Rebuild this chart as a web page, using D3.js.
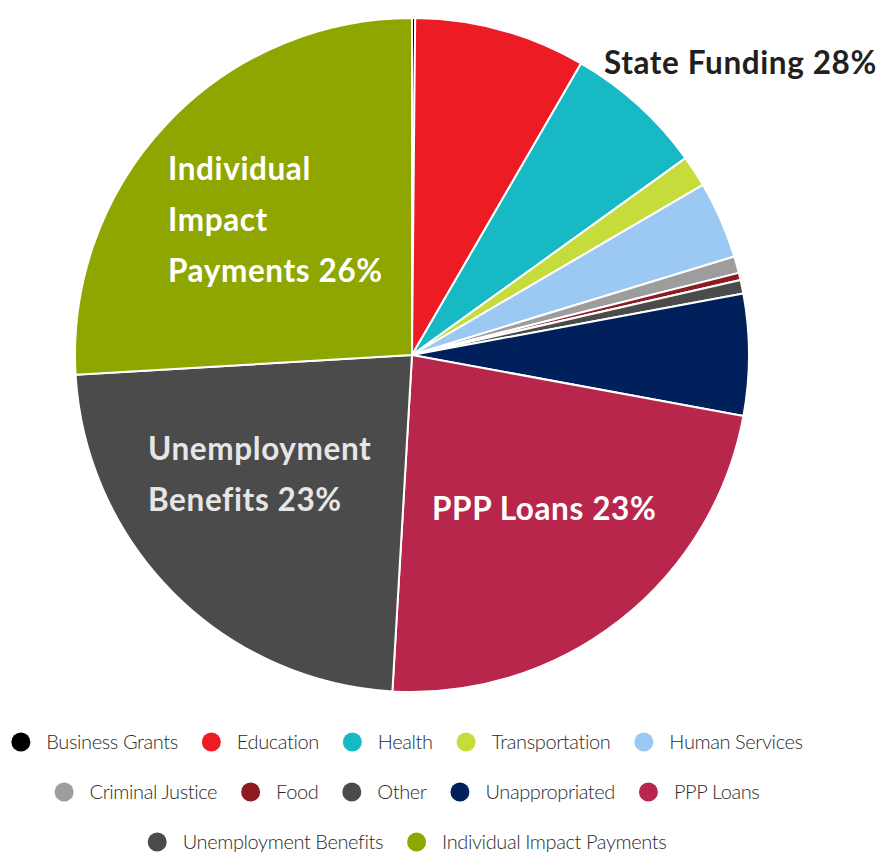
<!DOCTYPE html>
<html>
<head>
<meta charset="utf-8">
<script src="https://cdn.jsdelivr.net/npm/d3@7"></script>
<style>
  html, body { margin: 0; padding: 0; background: #fff; }
  svg { display: block; }
</style>
</head>
<body>
<div id="chart"></div>
<script>
// slice data (percent of total, clockwise from 12 o'clock)
const categories = ['Business Grants', 'Education', 'Health', 'Transportation', 'Human Services',
  'Criminal Justice', 'Food', 'Other', 'Unappropriated', 'PPP Loans',
  'Unemployment Benefits', 'Individual Impact Payments'];
const values = [0.15, 8.2, 6.7, 1.5, 3.7, 0.8, 0.35, 0.65, 5.8, 23.0, 23.1, 25.9];
const colors = ['#000000', '#ed1c24', '#17b9c5', '#c5dc3a', '#9cc9f3', '#9d9d9d',
  '#8e1a22', '#4b4b4b', '#00205c', '#b8264b', '#4b4b4b', '#8fa600'];

// legend rows
const legendRows = [
  ['Business Grants', 'Education', 'Health', 'Transportation', 'Human Services'],
  ['Criminal Justice', 'Food', 'Other', 'Unappropriated', 'PPP Loans'],
  ['Unemployment Benefits', 'Individual Impact Payments']
];

// big labels drawn on the pie
const bigLabels = [
  { lines: ['Individual', 'Impact', 'Payments 26%'], x: 168, y: 180, fill: '#ffffff' },
  { lines: ['Unemployment', 'Benefits 23%'], x: 148, y: 460, fill: '#e6e6e6' },
  { lines: ['PPP Loans 23%'], x: 432, y: 520, fill: '#ffffff' },
  { lines: ['State Funding 28%'], x: 604, y: 74, fill: '#231f20' }
];

const width = 881, height = 854;
const cx = 412, cy = 355, radius = 337;

const svg = d3.select('#chart').append('svg')
  .attr('width', width)
  .attr('height', height);

const data = categories.map((c, i) => ({ name: c, value: values[i], color: colors[i] }));

const pie = d3.pie().sort(null).value(d => d.value);
const arc = d3.arc().innerRadius(0).outerRadius(radius);

const g = svg.append('g').attr('transform', `translate(${cx},${cy})`);

g.selectAll('path')
  .data(pie(data))
  .enter().append('path')
  .attr('d', arc)
  .attr('fill', d => d.data.color)
  .attr('stroke', '#ffffff')
  .attr('stroke-width', 2)
  .attr('stroke-linejoin', 'round');

// labels
bigLabels.forEach(l => {
  const t = svg.append('text')
    .attr('x', l.x)
    .attr('y', l.y)
    .attr('fill', l.fill)
    .style('font-family', 'Lato, "Open Sans", sans-serif')
    .style('font-weight', 700)
    .style('font-size', '31.5px')
    .style('letter-spacing', '0.6px');
  l.lines.forEach((line, i) => {
    t.append('tspan')
      .attr('x', l.x)
      .attr('dy', i === 0 ? 0 : 51)
      .text(line);
  });
});

// legend
const colorOf = name => colors[categories.indexOf(name)];
const rowY = [742, 792, 842];
const centerX = 407;
const circleR = 9.5, padText = 16, gapItem = 24;

legendRows.forEach((row, ri) => {
  const rowG = svg.append('g');
  let x = 0;
  row.forEach(name => {
    rowG.append('circle')
      .attr('cx', x + circleR)
      .attr('cy', rowY[ri])
      .attr('r', circleR)
      .attr('fill', colorOf(name));
    const txt = rowG.append('text')
      .attr('x', x + circleR * 2 + padText)
      .attr('y', rowY[ri] + 7)
      .attr('fill', '#2b2b2b')
      .style('font-family', 'Lato, sans-serif')
      .style('font-weight', 300)
      .style('font-size', '20px')
      .style('letter-spacing', '-0.4px')
      .text(name);
    const w = txt.node().getComputedTextLength();
    x += circleR * 2 + padText + w + gapItem;
  });
  const total = x - gapItem;
  rowG.attr('transform', `translate(${centerX - total / 2},0)`);
});
</script>
</body>
</html>
